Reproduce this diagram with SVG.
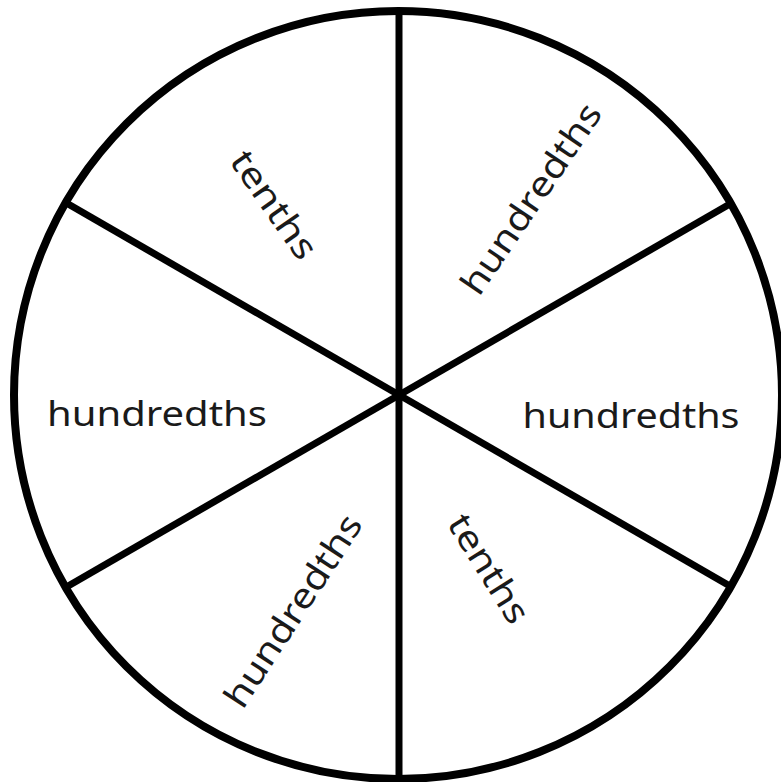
<svg xmlns="http://www.w3.org/2000/svg" width="781" height="782" viewBox="0 0 781 782">
<style>
.edge{stroke:#000;stroke-width:7;fill:none;stroke-linecap:butt}
.rim{stroke:#000;stroke-width:8;fill:#fff}
.lbl{font-family:"Noto Sans","Open Sans",sans-serif;font-size:35px;font-weight:400;fill:#1a1a1a;text-anchor:middle;dominant-baseline:central}
</style>
<rect width="781" height="782" fill="#fff"/>
<g id="wheel"><circle class="rim" cx="398" cy="395" r="384"/></g>
<g id="connectors">
<line class="edge" x1="399" y1="11" x2="399" y2="779"/>
<line class="edge" x1="66.4" y1="203" x2="731.6" y2="587"/>
<line class="edge" x1="731.6" y1="203" x2="66.4" y2="587"/>
</g>
<g id="s1"><text class="lbl" transform="translate(275,204) rotate(55)" textLength="124" lengthAdjust="spacingAndGlyphs">tenths</text></g>
<g id="s2"><text class="lbl" transform="translate(530,198) rotate(-56)" textLength="222" lengthAdjust="spacingAndGlyphs">hundredths</text></g>
<g id="s3"><text class="lbl" x="631" y="414" textLength="217" lengthAdjust="spacingAndGlyphs">hundredths</text></g>
<g id="s4"><text class="lbl" transform="translate(490,568) rotate(58)" textLength="122" lengthAdjust="spacingAndGlyphs">tenths</text></g>
<g id="s5"><text class="lbl" transform="translate(292,610) rotate(-57)" textLength="222" lengthAdjust="spacingAndGlyphs">hundredths</text></g>
<g id="s6"><text class="lbl" x="157" y="412" textLength="220" lengthAdjust="spacingAndGlyphs">hundredths</text></g>
</svg>
